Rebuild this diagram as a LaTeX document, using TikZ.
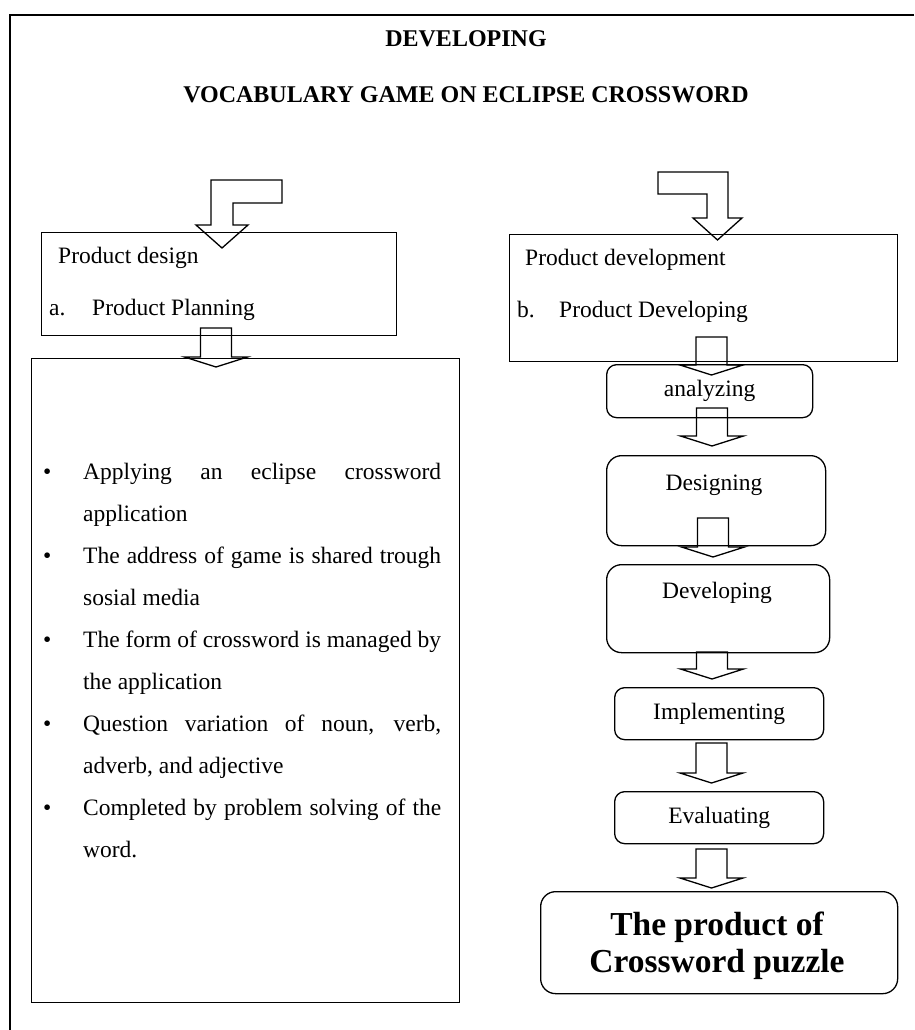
\documentclass[tikz,border=0pt]{standalone}
\usepackage{fontspec}
\setmainfont{Liberation Serif}

% hollow block arrow pointing down: centre x, top y, tip y
\newcommand{\blockdown}[3]{%
  \draw[blockline] (#1-15.5,#2) -- (#1-15.5,#3-10) -- (#1-31.5,#3-10)
    -- (#1,#3) -- (#1+31.5,#3-10) -- (#1+15.5,#3-10) -- (#1+15.5,#2) -- cycle;}

\begin{document}
\begin{tikzpicture}[x=1pt,y=-1pt,
    every node/.style={inner sep=0pt,font=\fontsize{23.5}{28}\selectfont},
    boxline/.style={draw,line width=1.3pt},
    roundbox/.style={draw,line width=1.3pt,rounded corners=10pt},
    blockline/.style={draw,line width=1.3pt,line join=miter},
    headline/.style={anchor=base,font=\bfseries\fontsize{24}{28}\selectfont}]

\useasboundingbox (0,0) rectangle (914,1030);
\draw[line width=1.8pt] (914,15) -- (10,15) -- (10,1030);

\node[headline] (head1) at (466,47) {DEVELOPING};
\node[headline] (head2) at (466,103) {VOCABULARY GAME ON ECLIPSE CROSSWORD};

% left column
\node[boxline,minimum width=355pt,minimum height=103pt,anchor=north west] (design) at (41,232) {};
\node[anchor=base west] (designt) at (58,263) {Product design};
\node[anchor=base west] (plana) at (49,315) {a.};
\node[anchor=base west] (plant) at (92,315) {Product Planning};

\node[boxline,minimum width=428pt,minimum height=644pt,anchor=north west] (tasks) at (31,358) {};
\node[anchor=north west,text width=398pt,align=justify,
      font=\fontsize{23.5}{42}\selectfont] (tasklist) at (43,463) {\hyphenpenalty=10000
  \hangindent=40pt\hangafter=1\noindent\makebox[40pt][l]{\textbullet}Applying an eclipse crossword\linebreak application\par
  \hangindent=40pt\hangafter=1\noindent\makebox[40pt][l]{\textbullet}The address of game is shared trough\linebreak sosial media\par
  \hangindent=40pt\hangafter=1\noindent\makebox[40pt][l]{\textbullet}The form of crossword is managed by\linebreak the application\par
  \hangindent=40pt\hangafter=1\noindent\makebox[40pt][l]{\textbullet}Question variation of noun, verb,\linebreak adverb, and adjective\par
  \hangindent=40pt\hangafter=1\noindent\makebox[40pt][l]{\textbullet}Completed by problem solving of the\linebreak word.\par};

% right column
\node[boxline,minimum width=388pt,minimum height=127pt,anchor=north west] (develop) at (509,234) {};
\node[anchor=base west] (developt) at (525,265) {Product development};
\node[anchor=base west] (devb) at (517,317) {b.};
\node[anchor=base west] (devbt) at (559,317) {Product Developing};

\node[roundbox,minimum width=206pt,minimum height=53pt,anchor=north west] (ana) at (606,364) {analyzing};
\node[roundbox,rounded corners=15pt,minimum width=219pt,minimum height=90pt,anchor=north west] (des) at (606,455) {};
\node[anchor=base] (dest) at (714,490) {Designing};
\node[roundbox,rounded corners=15pt,minimum width=223pt,minimum height=88pt,anchor=north west] (dev) at (606,564) {};
\node[anchor=base] (devt) at (717,598) {Developing};
\node[roundbox,minimum width=209pt,minimum height=52pt,anchor=north west] (impl) at (614,687) {Implementing};
\node[roundbox,minimum width=209pt,minimum height=52pt,anchor=north west] (eval) at (614,791) {Evaluating};
\node[roundbox,rounded corners=15pt,minimum width=357pt,minimum height=102pt,anchor=north west] (result) at (540,891) {};
\node[align=center,font=\bfseries\fontsize{33.5}{37}\selectfont] (resultt) at (717,946) {The product of\\Crossword puzzle};

% bent arrows into the two top boxes
\draw[blockline] (211,225) -- (211,180) -- (282,180) -- (282,203) -- (233,203) -- (233,225)
  -- (248,225) -- (222,248) -- (196,225) -- cycle;
\draw[blockline] (658,172) -- (728,172) -- (728,218) -- (742,218) -- (717.5,240)
  -- (693,218) -- (707,218) -- (707,194) -- (658,194) -- cycle;

% straight arrows
\foreach \cx/\ytop/\ytip in {216/328/367, 711.5/337/375, 712/408/446, 713/518/557,
    712/652/679, 711.5/743/783, 711.5/849/888}
  \blockdown{\cx}{\ytop}{\ytip};

\end{tikzpicture}
\end{document}
